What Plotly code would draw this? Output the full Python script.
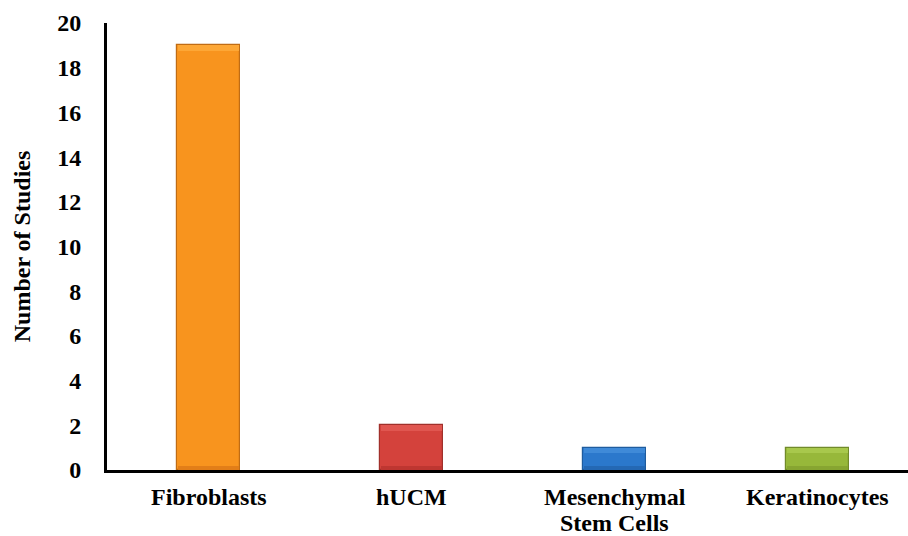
import plotly.graph_objects as go

# Cell types and number of studies using each
categories = ["Fibroblasts", "hUCM", "Mesenchymal\nStem Cells", "Keratinocytes"]
studies = [19, 2, 1, 1]

# Bar fill colours: body, top bevel highlight, bottom bevel shade, outline
body_colors = ["#F8941E", "#D4423C", "#2B78CC", "#97B83A"]
top_colors = ["#FDA736", "#E05650", "#3F8AD8", "#A8C84C"]
bottom_colors = ["#E27E18", "#BE3631", "#2468B4", "#87A531"]
edge_colors = ["#C06C14", "#A0302B", "#1F5C9E", "#718A2A"]

y_ticks = list(range(0, 21, 2))

positions = list(range(len(categories)))
bar_width = 0.315
bevel = 0.25

fig = go.Figure()

fig.add_trace(go.Bar(
    x=positions, y=studies, width=bar_width,
    marker=dict(color=body_colors, line=dict(color=edge_colors, width=1.2)),
    hoverinfo="skip", showlegend=False,
))
# lighter strip across the top of each bar
fig.add_trace(go.Bar(
    x=positions, y=[bevel] * len(studies),
    base=[v - bevel for v in studies], width=bar_width * 0.96,
    marker=dict(color=top_colors, line=dict(width=0)),
    hoverinfo="skip", showlegend=False,
))
# darker strip along the foot of each bar
fig.add_trace(go.Bar(
    x=positions, y=[bevel * 0.8] * len(studies),
    base=[0] * len(studies), width=bar_width * 0.96,
    marker=dict(color=bottom_colors, line=dict(width=0)),
    hoverinfo="skip", showlegend=False,
))

font = dict(family="Liberation Serif, Times New Roman, serif", size=24, color="black")

# category labels under the axis, one annotation per line for tight line spacing
first_line_shift = 12
line_step = 26
for pos, cat in zip(positions, categories):
    for i, line in enumerate(cat.split("\n")):
        fig.add_annotation(
            x=pos, y=0, xref="x", yref="y",
            text=f"<b>{line}</b>", showarrow=False,
            xanchor="center", yanchor="top",
            yshift=-(first_line_shift + i * line_step),
            font=font,
        )

fig.update_layout(
    width=908, height=536,
    margin=dict(l=107, r=0, t=23, b=66),
    plot_bgcolor="white", paper_bgcolor="white",
    barmode="overlay", bargap=0,
    font=font,
    xaxis=dict(
        range=[-0.5, -0.5 + 801 / 203],
        tickvals=positions, showticklabels=False,
        showgrid=False, zeroline=False,
        showline=True, linecolor="black", linewidth=3,
        ticks="", automargin=False,
    ),
    yaxis=dict(
        range=[0, 20], tickvals=y_ticks,
        ticktext=[f"<b>{t}</b>" for t in y_ticks],
        showgrid=False, zeroline=False,
        showline=True, linecolor="black", linewidth=3,
        ticks="", ticklabelstandoff=18, automargin=False,
        title=dict(text="<b>Number of Studies</b>", standoff=20, font=font),
    ),
)

fig.write_html("out.html")
